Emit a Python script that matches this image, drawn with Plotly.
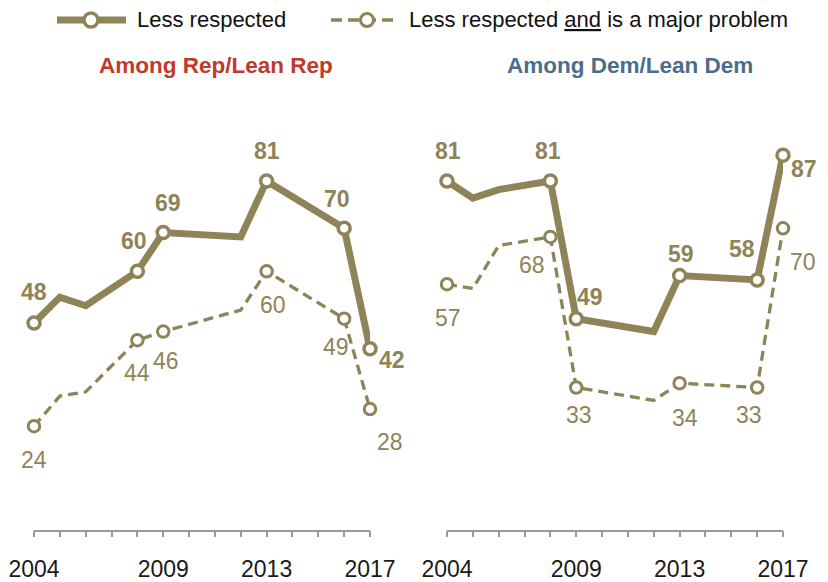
import plotly.graph_objects as go

# ---- data -------------------------------------------------------------
years = [2004, 2005, 2006, 2008, 2009, 2012, 2013, 2016, 2017]

rep_less_respected = [48, 54, 52, 60, 69, 68, 81, 70, 42]
rep_major_problem = [24, 31, 32, 44, 46, 51, 60, 49, 28]

dem_less_respected = [81, 77, 79, 81, 49, 46, 59, 58, 87]
dem_major_problem = [57, 56, 66, 68, 33, 30, 34, 33, 70]

# which points get a marker and a value label
labelled = [True, False, False, True, True, False, True, True, True]

tick_years = [2004, 2009, 2013, 2017]
panel_titles = ["Among Rep/Lean Rep", "Among Dem/Lean Dem"]
legend_labels = ["Less respected", "Less respected <u>and</u> is a major problem"]

# ---- label offsets (pixels, dx right / dy down) -----------------------
rep_solid_off = [(0, -31), None, None, (-3, -30), (5, -30), None, (0, -30), (-7, -29), (22, 11)]
rep_dash_off = [(0, 34), None, None, (0, 33), (3, 29), None, (6, 34), (-8, 28), (20, 33)]
dem_solid_off = [(1, -30), None, None, (-2, -30), (14, -22), None, (1, -22), (-15, -31), (21, 14)]
dem_dash_off = [(1, 34), None, None, (-18, 28), (3, 27), None, (5, 35), (-8, 27), (20, 34)]

# ---- styling ----------------------------------------------------------
W, H = 828, 582
GOLD = "#8F8358"
REP_RED = "#C0392B"
DEM_BLUE = "#4A6D8C"
FONT = "Liberation Sans, Arial, sans-serif"

fig = go.Figure()


def add_series(xaxis, yaxis, vals, solid):
    fig.add_trace(go.Scatter(
        x=years, y=vals, xaxis=xaxis, yaxis=yaxis,
        mode="lines+markers",
        line=dict(color=GOLD, width=7 if solid else 3.3,
                  dash="solid" if solid else "10px,6px"),
        marker=dict(symbol="circle", size=12 if solid else 11.5,
                    opacity=[1 if f else 0 for f in labelled],
                    color="white", line=dict(color=GOLD, width=3.5 if solid else 3)),
        cliponaxis=False, hoverinfo="skip", showlegend=False,
    ))


def add_labels(xref, yref, vals, offs, bold):
    for x, v, f, o in zip(years, vals, labelled, offs):
        if not f:
            continue
        txt = f"<b>{v}</b>" if bold else str(v)
        fig.add_annotation(
            x=x, y=v, xref=xref, yref=yref, text=txt, showarrow=False,
            xshift=o[0], yshift=-o[1],
            font=dict(family=FONT, size=23, color=GOLD),
            xanchor="center", yanchor="middle",
        )


add_series("x", "y", rep_major_problem, False)
add_series("x", "y", rep_less_respected, True)
add_series("x2", "y2", dem_major_problem, False)
add_series("x2", "y2", dem_less_respected, True)

add_labels("x", "y", rep_less_respected, rep_solid_off, True)
add_labels("x", "y", rep_major_problem, rep_dash_off, False)
add_labels("x2", "y2", dem_less_respected, dem_solid_off, True)
add_labels("x2", "y2", dem_major_problem, dem_dash_off, False)

# axes
all_years = list(range(2004, 2018))
tick_text = [str(y) if y in tick_years else "" for y in all_years]
y_bottom = (H - 529.5) / H
y_top = (H - 99.2) / H

xaxis_common = dict(
    range=[2004, 2017], tickvals=all_years, ticktext=tick_text,
    showgrid=False, zeroline=False, showline=True, linecolor="#9A9A9A", linewidth=1.5,
    ticks="outside", ticklen=6, tickwidth=1.5, tickcolor="#9A9A9A",
    tickfont=dict(family=FONT, size=23, color="#1A1A1A"),
    ticklabelstandoff=12, fixedrange=True, automargin=False,
)
yaxis_common = dict(range=[0, 100], domain=[y_bottom, y_top], visible=False,
                    showgrid=False, zeroline=False, fixedrange=True)

fig.update_layout(
    width=W, height=H,
    margin=dict(l=0, r=0, t=0, b=0, autoexpand=False),
    paper_bgcolor="white", plot_bgcolor="white",
    xaxis=dict(domain=[34 / W, 370 / W], anchor="y", **xaxis_common),
    xaxis2=dict(domain=[447 / W, 783 / W], anchor="y2", **xaxis_common),
    yaxis=dict(anchor="x", **yaxis_common),
    yaxis2=dict(anchor="x2", **yaxis_common),
    showlegend=False,
)

# panel titles
for title, cx, col in zip(panel_titles, [216, 630], [REP_RED, DEM_BLUE]):
    fig.add_annotation(
        x=cx / W, y=(H - 65) / H, xref="paper", yref="paper",
        text=f"<b>{title}</b>", showarrow=False,
        font=dict(family=FONT, size=22.5, color=col),
        xanchor="center", yanchor="middle",
    )

# custom legend along the top
ly = (H - 20) / H
fig.add_shape(type="line", xref="paper", yref="paper",
              x0=57 / W, x1=126 / W, y0=ly, y1=ly,
              line=dict(color=GOLD, width=7))
fig.add_shape(type="circle", xref="paper", yref="paper",
              x0=(91 - 7) / W, x1=(91 + 7) / W, y0=(H - 20 - 7) / H, y1=(H - 20 + 7) / H,
              fillcolor="white", line=dict(color=GOLD, width=3.5))
fig.add_shape(type="line", xref="paper", yref="paper",
              x0=331 / W, x1=397 / W, y0=ly, y1=ly,
              line=dict(color=GOLD, width=3.5, dash="11px,6px"))
fig.add_shape(type="circle", xref="paper", yref="paper",
              x0=(367 - 6.5) / W, x1=(367 + 6.5) / W, y0=(H - 20 - 6.5) / H, y1=(H - 20 + 6.5) / H,
              fillcolor="white", line=dict(color=GOLD, width=3))
for txt, lx in zip(legend_labels, [135, 407]):
    fig.add_annotation(
        x=lx / W, y=ly, xref="paper", yref="paper", text=txt, showarrow=False,
        font=dict(family=FONT, size=22, color="#111111"),
        xanchor="left", yanchor="middle",
    )

fig.write_html("out.html")
